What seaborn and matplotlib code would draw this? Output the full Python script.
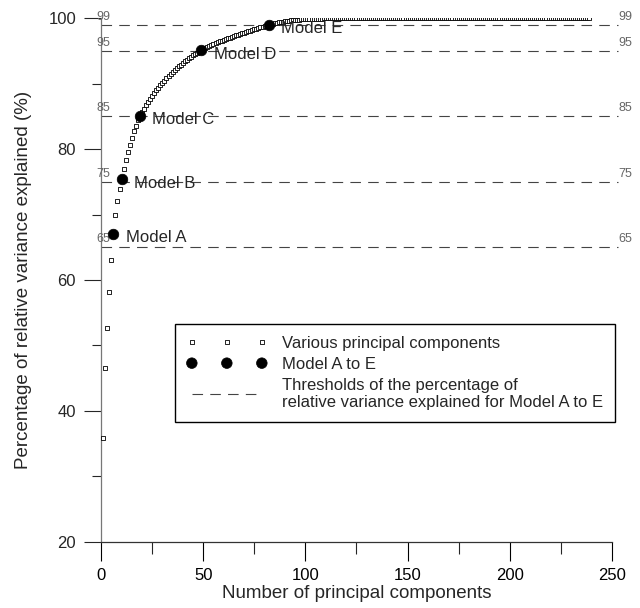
import numpy as np
import pandas as pd
import matplotlib
matplotlib.use("Agg")
import matplotlib.pyplot as plt
import seaborn as sns
from matplotlib.ticker import MultipleLocator

# Cumulative % of relative variance explained (PC 1..110)
cum_var_head = [
    35.9, 46.6, 52.6, 58.1, 63.1, 67.1, 69.9, 72.0, 73.9, 75.4,
    76.9, 78.3, 79.5, 80.7, 81.7, 82.7, 83.6, 84.4, 85.1, 85.65,
    86.18, 86.69, 87.18, 87.65, 88.10, 88.54, 88.96, 89.36, 89.75, 90.12,
    90.48, 90.83, 91.16, 91.48, 91.79, 92.09, 92.38, 92.66, 92.93, 93.19,
    93.44, 93.68, 93.91, 94.13, 94.34, 94.54, 94.73, 94.91, 95.08, 95.25,
    95.41, 95.57, 95.73, 95.88, 96.03, 96.17, 96.31, 96.45, 96.56, 96.69,
    96.81, 96.93, 97.05, 97.16, 97.27, 97.38, 97.49, 97.59, 97.69, 97.79,
    97.89, 97.99, 98.09, 98.19, 98.29, 98.39, 98.49, 98.59, 98.69, 98.79,
    98.89, 99.02, 99.10, 99.17, 99.24, 99.31, 99.37, 99.43, 99.48, 99.53,
    99.58, 99.62, 99.66, 99.70, 99.73, 99.76, 99.79, 99.82, 99.84, 99.86,
    99.88, 99.90, 99.91, 99.92, 99.93, 99.94, 99.95, 99.96, 99.97, 99.98,
]
# flat part of the curve (PC 111..239)
cum_var_tail = [100.0] * 129
cum_var = cum_var_head + cum_var_tail
n_pcs = list(range(1, len(cum_var) + 1))

model_names = ["Model A", "Model B", "Model C", "Model D", "Model E"]
model_pcs = [6, 10, 19, 49, 82]
thresholds = [65, 75, 85, 95, 99]

df = pd.DataFrame({"pc": n_pcs, "var": cum_var})
models = df[df["pc"].isin(model_pcs)].copy()
models["name"] = model_names

sns.set_style("ticks")
plt.rcParams["font.family"] = ["Liberation Sans", "DejaVu Sans"]

fig, ax = plt.subplots(figsize=(6.4, 6.08), dpi=100)
fig.subplots_adjust(left=0.158, right=0.956, bottom=0.109, top=0.970)

# threshold lines
ax.hlines(thresholds, 0, 253, colors="#444444", linestyles=(0, (9.5, 6.5)), lw=0.8,
          clip_on=False, zorder=1,
          label="Thresholds of the percentage of\nrelative variance explained for Model A to E")

sns.scatterplot(data=df, x="pc", y="var", marker="s", s=8, facecolor="white",
                edgecolor="black", linewidth=0.6, ax=ax, zorder=3,
                label="Various principal components")
sns.scatterplot(data=models, x="pc", y="var", marker="o", s=58, color="black",
                edgecolor="black", linewidth=0.5, ax=ax, zorder=4,
                label="Model A to E")

for _, r in models.iterrows():
    ax.annotate(r["name"], (r["pc"], r["var"]), xytext=(9, -3), textcoords="offset points",
                fontsize=12, ha="left", va="center", zorder=5)

for t in thresholds:
    ax.text(-2.5, t + 0.3, str(t), fontsize=9, color="#666666", ha="left", va="bottom",
            clip_on=False)
    ax.text(253.3, t + 0.3, str(t), fontsize=9, color="#666666", ha="left", va="bottom",
            clip_on=False)

ax.set_xlim(0, 250)
ax.set_ylim(20, 100)
ax.xaxis.set_major_locator(MultipleLocator(50))
ax.xaxis.set_minor_locator(MultipleLocator(25))
ax.yaxis.set_major_locator(MultipleLocator(20))
ax.yaxis.set_minor_locator(MultipleLocator(10))
ax.tick_params(axis="x", which="major", length=14, width=0.8, pad=5, labelsize=12, colors="black")
ax.tick_params(axis="x", which="minor", length=8.5, width=0.8)
ax.tick_params(axis="y", which="major", length=12, width=0.8, pad=6, labelsize=12)
ax.tick_params(axis="y", which="minor", length=6.5, width=0.8)
sns.despine(ax=ax)
ax.spines["left"].set_color("#777777")
ax.spines["bottom"].set_color("#333333")
ax.spines["left"].set_linewidth(0.9)
ax.spines["bottom"].set_linewidth(0.9)

ax.set_xlabel("Number of principal components", fontsize=13.5, labelpad=1)
ax.set_ylabel("Percentage of relative variance explained (%)", fontsize=13.5, labelpad=12)

handles, labels = ax.get_legend_handles_labels()
order = ["Various principal components", "Model A to E",
         "Thresholds of the percentage of\nrelative variance explained for Model A to E"]
hmap = dict(zip(labels, handles))
leg = ax.legend([hmap[l] for l in order], order, loc="upper left",
                bbox_to_anchor=(0.145, 0.415), borderaxespad=0, scatterpoints=3,
                scatteryoffsets=[0.5], handlelength=4.8, handletextpad=0.9,
                labelspacing=0.35, borderpad=0.7, fontsize=12, frameon=True,
                fancybox=False, edgecolor="black", framealpha=1)
leg.get_frame().set_linewidth(1.0)

fig.savefig("out.png", dpi=100)
